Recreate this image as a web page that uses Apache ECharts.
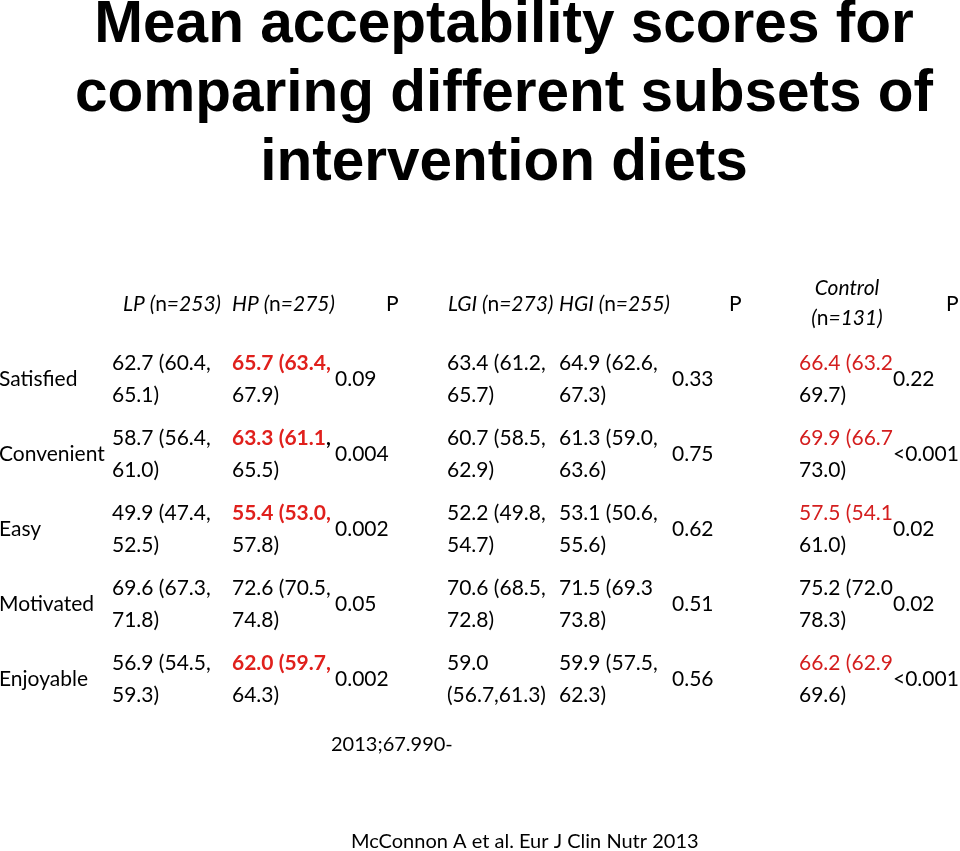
<!DOCTYPE html>
<html><head><meta charset="utf-8">
<script src="https://cdn.jsdelivr.net/npm/echarts@6/dist/echarts.min.js"></script>
<style>html,body{margin:0;padding:0;background:#fff}#c{width:960px;height:851px}</style>
</head><body><div id="c"></div>
<script>
// ---------- data ----------
const rows = ['Satisfied', 'Convenient', 'Easy', 'Motivated', 'Enjoyable'];
const columns = ['LP', 'HP', 'P_protein', 'LGI', 'HGI', 'P_GI', 'Control', 'P_control'];
const headerNames = ['LP', 'HP', 'P', 'LGI', 'HGI', 'P', 'Control', 'P'];
const headerN = [253, 275, null, 273, 255, null, 131, null];

const lpMean = [62.7, 58.7, 49.9, 69.6, 56.9];
const lpLow  = [60.4, 56.4, 47.4, 67.3, 54.5];
const lpHigh = [65.1, 61.0, 52.5, 71.8, 59.3];

const hpMean = [65.7, 63.3, 55.4, 72.6, 62.0];
const hpLow  = [63.4, 61.1, 53.0, 70.5, 59.7];
const hpHigh = [67.9, 65.5, 57.8, 74.8, 64.3];

const pProtein = ['0.09', '0.004', '0.002', '0.05', '0.002'];

const lgiMean = [63.4, 60.7, 52.2, 70.6, 59.0];
const lgiLow  = [61.2, 58.5, 49.8, 68.5, 56.7];
const lgiHigh = [65.7, 62.9, 54.7, 72.8, 61.3];

const hgiMean = [64.9, 61.3, 53.1, 71.5, 59.9];
const hgiLow  = [62.6, 59.0, 50.6, 69.3, 57.5];
const hgiHigh = [67.3, 63.6, 55.6, 73.8, 62.3];

const pGI = ['0.33', '0.75', '0.62', '0.51', '0.56'];

const ctlMean = [66.4, 69.9, 57.5, 75.2, 66.2];
const ctlLow  = [63.2, 66.7, 54.1, 72.0, 62.9];
const ctlHigh = [69.7, 73.0, 61.0, 78.3, 69.6];

const pControl = ['0.22', '<0.001', '0.02', '0.02', '<0.001'];

const hpHighlighted  = [true, true, true, false, true];
const ctlHighlighted = [true, true, true, false, true];

const titleLines = ['Mean acceptability scores for', 'comparing different subsets of', 'intervention diets'];
const note1 = '2013;67.990-';
const note2 = 'McConnon A et al. Eur J Clin Nutr 2013';

// ---------- layout / style ----------
const FONT = 'Lato, "Open Sans", sans-serif';
const TITLE_FONT = '"Liberation Sans", Arial, sans-serif';
const GRID_LEFT = 112, BAND = 106;
const colStart = [112, 232, 335, 447, 559, 672, 799, 893];
const headerStart = [123, 232, 386, 448, 559, 729, null, 946];
const headerCenter = [null, null, null, null, null, null, 847, null];
function bandCenter(i) { return GRID_LEFT + BAND * i + BAND / 2; }

const f1 = v => v.toFixed(1);
function ciLines(m, lo, hi, comma) {
  return [f1(m) + ' (' + f1(lo) + (comma ? ',' : ''), f1(hi) + ')'];
}

const data = [];
// header row
headerNames.forEach((h, i) => {
  let text;
  if (headerN[i] == null) text = '{n|' + h + '}';
  else if (h === 'Control') text = '{i|' + h + '}\n{i|(}{n|n}{i|=' + headerN[i] + ')}';
  else text = '{i|' + h + ' (}{n|n}{i|=' + headerN[i] + ')}';
  const centered = headerCenter[i] != null;
  data.push({
    value: [columns[i], 'header'], text,
    label: centered
      ? { align: 'center', offset: [headerCenter[i] - bandCenter(i), 0] }
      : { align: 'left', offset: [headerStart[i] - bandCenter(i), 0] }
  });
});

function cell(ci, ri, text) {
  data.push({ value: [columns[ci], rows[ri]], text, label: { align: 'left', offset: [colStart[ci] - bandCenter(ci), 0] } });
}

rows.forEach((r, ri) => {
  let l = ciLines(lpMean[ri], lpLow[ri], lpHigh[ri], true);
  cell(0, ri, '{n|' + l[0] + '}\n{n|' + l[1] + '}');
  l = ciLines(hpMean[ri], hpLow[ri], hpHigh[ri], false);
  let first;
  if (hpHighlighted[ri]) first = '{rb|' + l[0] + '}' + (ri === 1 ? '{b|,}' : '{rb|,}');
  else first = '{n|' + l[0] + ',}';
  cell(1, ri, first + '\n{n|' + l[1] + '}');
  cell(2, ri, '{n|' + pProtein[ri] + '}');
  if (r === 'Enjoyable') {
    cell(3, ri, '{n|' + f1(lgiMean[ri]) + '}\n{n|(' + f1(lgiLow[ri]) + ',' + f1(lgiHigh[ri]) + ')}');
  } else {
    l = ciLines(lgiMean[ri], lgiLow[ri], lgiHigh[ri], true);
    cell(3, ri, '{n|' + l[0] + '}\n{n|' + l[1] + '}');
  }
  l = ciLines(hgiMean[ri], hgiLow[ri], hgiHigh[ri], r !== 'Motivated');
  cell(4, ri, '{n|' + l[0] + '}\n{n|' + l[1] + '}');
  cell(5, ri, '{n|' + pGI[ri] + '}');
  l = ciLines(ctlMean[ri], ctlLow[ri], ctlHigh[ri], false);
  cell(6, ri, (ctlHighlighted[ri] ? '{r|' + l[0] + '}' : '{n|' + l[0] + '}') + '\n{n|' + l[1] + '}');
  cell(7, ri, '{n|' + pControl[ri] + '}');
});

const base = { fontFamily: FONT, fontSize: 21, color: '#000', lineHeight: 32 };
const rich = {
  n: Object.assign({}, base),
  b: Object.assign({}, base, { fontWeight: 'bold' }),
  i: Object.assign({}, base, { fontStyle: 'italic', lineHeight: 28 }),
  rb: Object.assign({}, base, { color: '#e0201c', fontWeight: 'bold' }),
  r: Object.assign({}, base, { color: '#d41e1e' })
};

const chart = echarts.init(document.getElementById('c'), null, { renderer: 'canvas' });
chart.setOption({
  backgroundColor: '#fff',
  animation: false,
  grid: { left: GRID_LEFT, top: 267, width: BAND * columns.length, height: 450, containLabel: false, outerBoundsMode: 'none' },
  xAxis: { type: 'category', data: columns, show: false },
  yAxis: {
    type: 'category', data: ['header'].concat(rows), inverse: true,
    axisLine: { show: false }, axisTick: { show: false }, splitLine: { show: false },
    axisLabel: {
      margin: GRID_LEFT + 1, align: 'left', fontFamily: FONT, fontSize: 21, color: '#000',
      formatter: v => v === 'header' ? '' : v
    }
  },
  series: [{
    type: 'scatter', symbolSize: 1, itemStyle: { color: 'rgba(0,0,0,0)', opacity: 1 },
    data,
    label: {
      show: true, position: 'inside', verticalAlign: 'middle',
      formatter: p => p.data.text, rich
    },
    emphasis: { disabled: true }
  }],
  graphic: [
    ...titleLines.map((t, k) => ({
      type: 'text', x: 504, y: 26 + 69 * k,
      style: { text: t, fontFamily: TITLE_FONT, fontWeight: 'bold', fontSize: 58.5, fill: '#000', align: 'center', verticalAlign: 'middle' }
    })),
    { type: 'text', x: 331, y: 745, style: { text: note1, fontFamily: FONT, fontSize: 20, fill: '#000', verticalAlign: 'middle' } },
    { type: 'text', x: 351, y: 842, style: { text: note2, fontFamily: FONT, fontSize: 20, fill: '#000', verticalAlign: 'middle' } }
  ]
});
</script>
</body></html>
